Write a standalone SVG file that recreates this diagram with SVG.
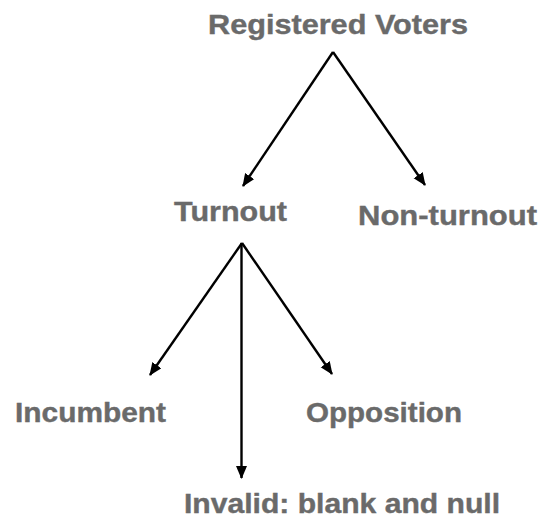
<svg xmlns="http://www.w3.org/2000/svg" width="544" height="521" viewBox="0 0 544 521">
<defs>
<style>
.lbl{font-family:"Liberation Sans",Arial,sans-serif;font-weight:bold;font-size:28px;fill:#6a6a6a;stroke:#6a6a6a;stroke-width:0.4;}
.edge{stroke:#000;stroke-width:2.4;fill:none;marker-end:url(#arr);}
</style>
<marker id="arr" markerUnits="userSpaceOnUse" markerWidth="14" markerHeight="12" refX="12" refY="5.5" orient="auto">
<path d="M0,0 L13,5.5 L0,11 Z" fill="#000"/>
</marker>
</defs>
<rect width="544" height="521" fill="#fff"/>
<g id="connectors">
<line class="edge" x1="333" y1="52" x2="243" y2="186"/>
<line class="edge" x1="333" y1="52" x2="425" y2="185"/>
<line class="edge" x1="242" y1="243" x2="150" y2="375"/>
<line class="edge" x1="241.5" y1="243" x2="241.5" y2="478"/>
<line class="edge" x1="242" y1="243" x2="332" y2="374"/>
</g>
<g id="registered-voters"><text class="lbl" x="208" y="34" textLength="260" lengthAdjust="spacingAndGlyphs">Registered Voters</text></g>
<g id="turnout"><text class="lbl" x="174" y="221" textLength="113" lengthAdjust="spacingAndGlyphs">Turnout</text></g>
<g id="non-turnout"><text class="lbl" x="358" y="225" textLength="179" lengthAdjust="spacingAndGlyphs">Non-turnout</text></g>
<g id="incumbent"><text class="lbl" x="15" y="422" textLength="151" lengthAdjust="spacingAndGlyphs">Incumbent</text></g>
<g id="opposition"><text class="lbl" x="306" y="422" textLength="156" lengthAdjust="spacingAndGlyphs">Opposition</text></g>
<g id="invalid"><text class="lbl" x="184" y="513" textLength="316" lengthAdjust="spacingAndGlyphs">Invalid: blank and null</text></g>
</svg>
